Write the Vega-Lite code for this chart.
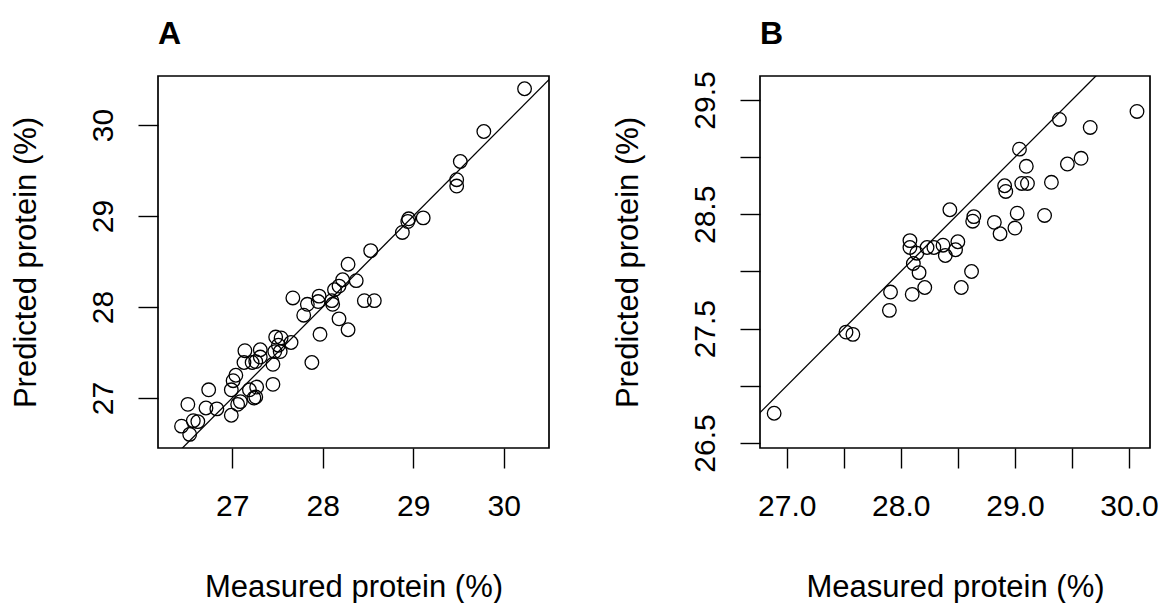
{
  "$schema": "https://vega.github.io/schema/vega-lite/v6.json",
  "background": "white",
  "padding": {"left": 9, "top": 16, "right": 0, "bottom": 0},
  "spacing": 211,
  "bounds": "flush",
  "config": {
    "font": "Liberation Sans",
    "view": {"stroke": "black", "strokeWidth": 1.7},
    "axis": {
      "grid": false,
      "domain": false,
      "ticks": true,
      "tickColor": "black",
      "tickSize": 20,
      "tickWidth": 1.4,
      "labelFont": "Liberation Sans",
      "labelFontSize": 30,
      "labelColor": "black",
      "labelPadding": 26,
      "labelOverlap": false,
      "labelFlush": false,
      "titleFont": "Liberation Sans",
      "titleFontSize": 31,
      "titleFontWeight": "normal",
      "titleColor": "black"
    },
    "axisX": {"labelBaseline": "top", "labelPadding": 23, "titlePadding": 51},
    "axisY": {"labelAngle": -90, "labelAlign": "center", "labelBaseline": "alphabetic", "titlePadding": 46}
  },
  "datasets": {
    "a_points": [
      {"x": 30.23, "y": 30.40}, {"x": 29.78, "y": 29.93}, {"x": 29.52, "y": 29.60}, {"x": 29.48, "y": 29.40},
      {"x": 29.48, "y": 29.33}, {"x": 28.95, "y": 28.97}, {"x": 28.94, "y": 28.94}, {"x": 29.11, "y": 28.98},
      {"x": 28.88, "y": 28.82}, {"x": 28.53, "y": 28.62}, {"x": 28.28, "y": 28.47}, {"x": 28.37, "y": 28.29},
      {"x": 28.22, "y": 28.30}, {"x": 28.18, "y": 28.23}, {"x": 28.13, "y": 28.19}, {"x": 28.10, "y": 28.07},
      {"x": 28.11, "y": 28.03}, {"x": 27.96, "y": 28.12}, {"x": 27.95, "y": 28.06}, {"x": 27.83, "y": 28.03},
      {"x": 27.67, "y": 28.10}, {"x": 27.79, "y": 27.91}, {"x": 28.46, "y": 28.07}, {"x": 28.57, "y": 28.07},
      {"x": 28.18, "y": 27.87}, {"x": 28.28, "y": 27.75}, {"x": 27.97, "y": 27.70}, {"x": 27.88, "y": 27.39},
      {"x": 27.65, "y": 27.61}, {"x": 27.54, "y": 27.66}, {"x": 27.48, "y": 27.67}, {"x": 27.51, "y": 27.58},
      {"x": 27.53, "y": 27.51}, {"x": 27.47, "y": 27.51}, {"x": 27.45, "y": 27.37}, {"x": 27.31, "y": 27.53},
      {"x": 27.31, "y": 27.45}, {"x": 27.26, "y": 27.40}, {"x": 27.14, "y": 27.52}, {"x": 27.13, "y": 27.39},
      {"x": 27.22, "y": 27.39}, {"x": 27.04, "y": 27.25}, {"x": 27.01, "y": 27.19}, {"x": 26.99, "y": 27.09},
      {"x": 27.45, "y": 27.15}, {"x": 27.27, "y": 27.12}, {"x": 27.19, "y": 27.09}, {"x": 27.24, "y": 27.00},
      {"x": 27.26, "y": 27.01}, {"x": 27.09, "y": 26.96}, {"x": 27.06, "y": 26.93}, {"x": 26.74, "y": 27.09},
      {"x": 26.51, "y": 26.93}, {"x": 26.71, "y": 26.89}, {"x": 26.83, "y": 26.88}, {"x": 26.99, "y": 26.81},
      {"x": 26.57, "y": 26.75}, {"x": 26.62, "y": 26.74}, {"x": 26.44, "y": 26.69}, {"x": 26.53, "y": 26.60}
    ],
    "b_points": [
      {"x": 26.89, "y": 26.76}, {"x": 27.52, "y": 27.47}, {"x": 27.58, "y": 27.45}, {"x": 27.91, "y": 27.82},
      {"x": 27.90, "y": 27.66}, {"x": 28.10, "y": 27.80}, {"x": 28.21, "y": 27.86}, {"x": 28.16, "y": 27.99},
      {"x": 28.11, "y": 28.07}, {"x": 28.08, "y": 28.21}, {"x": 28.08, "y": 28.27}, {"x": 28.14, "y": 28.16},
      {"x": 28.23, "y": 28.21}, {"x": 28.29, "y": 28.21}, {"x": 28.37, "y": 28.23}, {"x": 28.39, "y": 28.14},
      {"x": 28.48, "y": 28.19}, {"x": 28.50, "y": 28.26}, {"x": 28.62, "y": 28.00}, {"x": 28.53, "y": 27.86},
      {"x": 28.43, "y": 28.54}, {"x": 28.64, "y": 28.48}, {"x": 28.63, "y": 28.44}, {"x": 28.82, "y": 28.43},
      {"x": 28.87, "y": 28.33}, {"x": 29.00, "y": 28.38}, {"x": 29.02, "y": 28.51}, {"x": 28.91, "y": 28.75},
      {"x": 28.92, "y": 28.70}, {"x": 29.04, "y": 29.07}, {"x": 29.10, "y": 28.92}, {"x": 29.06, "y": 28.77},
      {"x": 29.11, "y": 28.77}, {"x": 29.32, "y": 28.78}, {"x": 29.26, "y": 28.49}, {"x": 29.39, "y": 29.33},
      {"x": 29.46, "y": 28.94}, {"x": 29.58, "y": 28.99}, {"x": 29.66, "y": 29.26}, {"x": 30.07, "y": 29.40}
    ],
    "identity": [{"x": 26, "y": 26, "x2": 31, "y2": 31}]
  },
  "hconcat": [
    {
      "width": 391,
      "height": 372,
      "title": {"text": "A", "anchor": "start", "frame": "group", "fontSize": 32, "fontWeight": "bold", "font": "Liberation Sans", "color": "black", "baseline": "alphabetic", "offset": 0},
      "layer": [
        {
          "data": {"name": "a_points"},
          "mark": {"type": "point", "shape": "circle", "filled": false, "stroke": "black", "strokeWidth": 1.3, "size": 185, "opacity": 1},
          "encoding": {
            "x": {"field": "x", "type": "quantitative", "title": "Measured protein (%)",
                  "scale": {"domain": [26.18, 30.5], "nice": false, "zero": false},
                  "axis": {"values": [27, 28, 29, 30], "format": "d"}},
            "y": {"field": "y", "type": "quantitative", "title": "Predicted protein (%)",
                  "scale": {"domain": [26.45, 30.54], "nice": false, "zero": false},
                  "axis": {"values": [27, 28, 29, 30], "format": "d"}}
          }
        },
        {
          "data": {"name": "identity"},
          "mark": {"type": "rule", "clip": true, "color": "black", "strokeWidth": 1.3},
          "encoding": {
            "x": {"field": "x", "type": "quantitative"},
            "y": {"field": "y", "type": "quantitative"},
            "x2": {"field": "x2"},
            "y2": {"field": "y2"}
          }
        }
      ]
    },
    {
      "width": 390,
      "height": 372,
      "title": {"text": "B", "anchor": "start", "frame": "group", "fontSize": 32, "fontWeight": "bold", "font": "Liberation Sans", "color": "black", "baseline": "alphabetic", "offset": -5},
      "layer": [
        {
          "data": {"name": "b_points"},
          "mark": {"type": "point", "shape": "circle", "filled": false, "stroke": "black", "strokeWidth": 1.3, "size": 185, "opacity": 1},
          "encoding": {
            "x": {"field": "x", "type": "quantitative", "title": "Measured protein (%)",
                  "scale": {"domain": [26.766, 30.184], "nice": false, "zero": false},
                  "axis": {"values": [27, 27.5, 28, 28.5, 29, 29.5, 30], "labelExpr": "datum.value % 1 == 0 ? format(datum.value, '.1f') : ''"}},
            "y": {"field": "y", "type": "quantitative", "title": "Predicted protein (%)",
                  "scale": {"domain": [26.456, 29.71], "nice": false, "zero": false},
                  "axis": {"values": [26.5, 27, 27.5, 28, 28.5, 29, 29.5], "labelExpr": "datum.value % 1 != 0 ? format(datum.value, '.1f') : ''"}}
          }
        },
        {
          "data": {"name": "identity"},
          "mark": {"type": "rule", "clip": true, "color": "black", "strokeWidth": 1.3},
          "encoding": {
            "x": {"field": "x", "type": "quantitative"},
            "y": {"field": "y", "type": "quantitative"},
            "x2": {"field": "x2"},
            "y2": {"field": "y2"}
          }
        }
      ]
    }
  ]
}
